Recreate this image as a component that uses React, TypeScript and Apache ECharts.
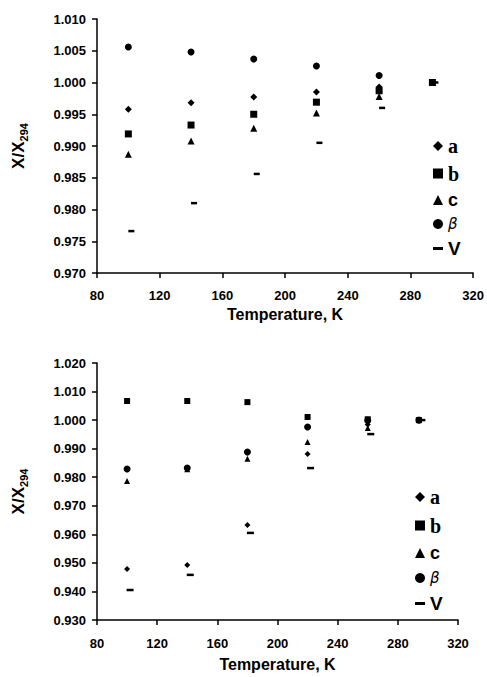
import React, { useEffect, useRef } from "react";
import * as echarts from "echarts";

const temps = [100, 140, 180, 220, 260, 294];
const xTicks = [80, 120, 160, 200, 240, 280, 320];

const topA = [0.9958, 0.9968, 0.9977, 0.9985, 0.9993, 1.0];
const topB = [0.9919, 0.9933, 0.995, 0.9969, 0.9987, 1.0];
const topC = [0.9887, 0.9908, 0.9928, 0.9952, 0.9978, 1.0];
const topBeta = [1.0056, 1.0048, 1.0037, 1.0026, 1.0011, 1.0];
const topV = [0.9766, 0.981, 0.9856, 0.9905, 0.996, 1.0];

const botA = [0.9479, 0.9493, 0.9633, 0.9881, 0.9985, 1.0];
const botB = [1.0067, 1.0067, 1.0063, 1.0011, 1.0003, 1.0];
const botC = [0.9787, 0.9828, 0.9865, 0.9923, 0.9972, 1.0];
const botBeta = [0.9829, 0.9832, 0.9888, 0.9976, 0.9999, 1.0];
const botV = [0.9405, 0.9458, 0.9605, 0.9832, 0.9951, 1.0];

const names = ["a", "b", "c", "β", "V"];

const DIAMOND = "path://M5,0L10,5L5,10L0,5Z";
const DASH = "path://M0,0H10V3H0Z";

export default function App() {
  const ref = useRef<HTMLDivElement>(null);
  useEffect(() => {
    document.body.style.margin = "0";
    const chart = echarts.init(ref.current!, undefined, { renderer: "svg" });
    const pair = (vals: number[]) => temps.map((t, i) => [t, vals[i]]);
    const axisLabel = {
      color: "#000",
      fontFamily: "Liberation Sans, Arial",
      fontWeight: "bold" as const,
      fontSize: 13,
    };
    const xAxisBase = {
      type: "value" as const,
      min: xTicks[0],
      max: xTicks[xTicks.length - 1],
      interval: 40,
      name: "Temperature, K",
      nameLocation: "middle" as const,
      nameTextStyle: {
        color: "#000",
        fontFamily: "Liberation Sans, Arial",
        fontWeight: "bold" as const,
        fontSize: 16,
      },
      axisLine: { show: true, lineStyle: { color: "#000", width: 1.5 } },
      axisTick: { show: true, length: 5, lineStyle: { color: "#000", width: 1.5 } },
      splitLine: { show: false },
    };
    const yName = "{m|X/X}{s|294}";
    const yRich = {
      m: { fontSize: 17, fontWeight: "bold" as const, fontFamily: "Liberation Sans, Arial", color: "#000" },
      s: { fontSize: 11, fontWeight: "bold" as const, fontFamily: "Liberation Sans, Arial", color: "#000", padding: [10, 0, 0, 0] },
    };
    const yAxisBase = {
      type: "value" as const,
      name: yName,
      nameLocation: "middle" as const,
      nameRotate: 90,
      nameGap: 68,
      nameTextStyle: { rich: yRich },
      axisLine: { show: true, lineStyle: { color: "#000", width: 1.5 } },
      axisTick: { show: true, length: 5, lineStyle: { color: "#000", width: 1.5 } },
      splitLine: { show: false },
    };
    const sym = (n: string, small: boolean) => {
      switch (n) {
        case "a":
          return { symbol: DIAMOND, symbolSize: small ? 6 : 7 };
        case "b":
          return { symbol: "rect", symbolSize: small ? 6 : 7 };
        case "c":
          return { symbol: "triangle", symbolSize: small ? 6 : 7 };
        case "β":
          return { symbol: "circle", symbolSize: 7 };
        default:
          return { symbol: "rect", symbolSize: small ? [7, 2.5] : [6, 2.5], symbolOffset: [3, 0] };
      }
    };
    const topVals = [topA, topB, topC, topBeta, topV];
    const botVals = [botA, botB, botC, botBeta, botV];
    const series: any[] = [];
    names.forEach((n, i) => {
      series.push({
        type: "scatter",
        name: n,
        xAxisIndex: 0,
        yAxisIndex: 0,
        data: pair(topVals[i]),
        itemStyle: { color: "#000", opacity: 1 },
        ...sym(n, false),
      });
    });
    names.forEach((n, i) => {
      series.push({
        type: "scatter",
        name: n,
        xAxisIndex: 1,
        yAxisIndex: 1,
        data: pair(botVals[i]),
        itemStyle: { color: "#000", opacity: 1 },
        ...sym(n, true),
      });
    });
    const legendText: Record<string, any> = {
      a: { fontFamily: "Liberation Serif, Times New Roman", fontWeight: "bold", fontSize: 20 },
      b: { fontFamily: "Liberation Serif, Times New Roman", fontWeight: "bold", fontSize: 20 },
      c: { fontFamily: "Liberation Sans, Arial", fontWeight: "bold", fontSize: 18 },
      "β": { fontFamily: "DejaVu Sans, Arial", fontStyle: "italic", fontWeight: "normal", fontSize: 15 },
      V: { fontFamily: "Liberation Sans, Arial", fontWeight: "bold", fontSize: 19 },
    };
    const legendIcon: Record<string, string> = {
      a: DIAMOND,
      b: "rect",
      c: "triangle",
      "β": "circle",
      V: DASH,
    };
    const legendData = names.map((n) => ({
      name: n,
      icon: legendIcon[n],
      itemStyle: { color: "#000", opacity: 1 },
      textStyle: { color: "#000", ...legendText[n] },
    }));
    chart.setOption({
      animation: false,
      grid: [
        { left: 97, top: 19, width: 378, height: 254 },
        { left: 97, top: 363, width: 361, height: 257 },
      ],
      xAxis: [
        { ...xAxisBase, gridIndex: 0, nameGap: 33, axisLabel: { ...axisLabel, margin: 16 } },
        { ...xAxisBase, gridIndex: 1, nameGap: 36, axisLabel: { ...axisLabel, margin: 17 } },
      ],
      yAxis: [
        {
          ...yAxisBase,
          gridIndex: 0,
          min: 0.97,
          max: 1.01,
          interval: 0.005,
          axisLabel: { ...axisLabel, margin: 11, formatter: (v: number) => v.toFixed(3) },
        },
        {
          ...yAxisBase,
          gridIndex: 1,
          min: 0.93,
          max: 1.02,
          interval: 0.01,
          axisLabel: { ...axisLabel, margin: 11, formatter: (v: number) => v.toFixed(3) },
        },
      ],
      legend: [
        {
          orient: "vertical",
          left: 428,
          top: 131,
          itemWidth: 10,
          itemHeight: 10,
          itemGap: 7.5,
          selectedMode: false,
          data: legendData,
        },
        {
          orient: "vertical",
          left: 410,
          top: 482,
          itemWidth: 10,
          itemHeight: 10,
          itemGap: 8.5,
          selectedMode: false,
          data: legendData,
        },
      ],
      series,
    });
    return () => chart.dispose();
  }, []);
  return (
    <div
      ref={ref}
      style={{ position: "absolute", left: 0, top: 0, width: 487, height: 677, background: "#fff" }}
    />
  );
}
